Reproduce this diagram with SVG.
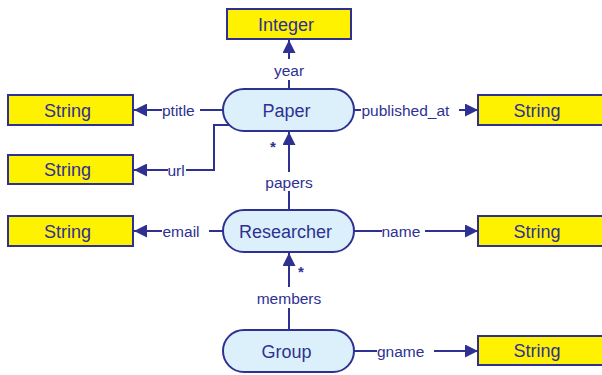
<svg xmlns="http://www.w3.org/2000/svg" width="602" height="375" viewBox="0 0 602 375">
<defs>
<style>
.box{fill:#FFF200;stroke:#2E3192;stroke-width:2}
.cls{fill:#DCF0FB;stroke:#2E3192;stroke-width:2}
.nt{font-family:"Liberation Sans",Arial,sans-serif;font-size:18px;fill:#2E3192;text-anchor:middle}
.lt{font-family:"Liberation Sans",Arial,sans-serif;font-size:15.5px;fill:#2E3192}
.ln{stroke:#2E3192;stroke-width:2;fill:none}
.st{font-family:"Liberation Sans",Arial,sans-serif;font-size:15px;font-weight:bold;fill:#2E3192}
</style>
<marker id="ah" markerUnits="userSpaceOnUse" markerWidth="14" markerHeight="13" refX="13" refY="6.5" orient="auto">
<path d="M0,0 L13,6.5 L0,13 z" fill="#2E3192"/>
</marker>
</defs>
<rect width="602" height="375" fill="#FFFFFF"/>
<g id="connectors">
<!-- year -->
<line class="ln" x1="289" y1="59" x2="289" y2="40" marker-end="url(#ah)"/>
<line class="ln" x1="289" y1="80" x2="289" y2="89"/>
<text class="lt" x="289" y="76" text-anchor="middle">year</text>
<!-- ptitle -->
<line class="ln" x1="162" y1="110" x2="134" y2="110" marker-end="url(#ah)"/>
<line class="ln" x1="200" y1="110" x2="223" y2="110"/>
<text class="lt" x="162" y="115.5">ptitle</text>
<!-- url -->
<path class="ln" d="M229,125 H214 V170 H186"/>
<line class="ln" x1="168" y1="170" x2="134" y2="170" marker-end="url(#ah)"/>
<text class="lt" x="167.5" y="175.5">url</text>
<!-- published_at -->
<line class="ln" x1="354" y1="110" x2="361" y2="110"/>
<line class="ln" x1="459" y1="110" x2="478" y2="110" marker-end="url(#ah)"/>
<text class="lt" x="361.5" y="115.5">published_at</text>
<!-- papers -->
<line class="ln" x1="289" y1="210" x2="289" y2="191"/>
<line class="ln" x1="289" y1="172" x2="289" y2="132" marker-end="url(#ah)"/>
<text class="lt" x="289" y="188" text-anchor="middle">papers</text>
<text class="st" x="273" y="152" text-anchor="middle">*</text>
<!-- email -->
<line class="ln" x1="162" y1="231" x2="134" y2="231" marker-end="url(#ah)"/>
<line class="ln" x1="209" y1="231" x2="223" y2="231"/>
<text class="lt" x="162.5" y="236.5">email</text>
<!-- name -->
<line class="ln" x1="354" y1="231" x2="382" y2="231"/>
<line class="ln" x1="425" y1="231" x2="478" y2="231" marker-end="url(#ah)"/>
<text class="lt" x="381.5" y="236.5">name</text>
<!-- members -->
<line class="ln" x1="289" y1="330" x2="289" y2="308"/>
<line class="ln" x1="289" y1="287" x2="289" y2="253" marker-end="url(#ah)"/>
<text class="lt" x="289" y="303.5" text-anchor="middle">members</text>
<text class="st" x="301" y="277" text-anchor="middle">*</text>
<!-- gname -->
<line class="ln" x1="354" y1="351" x2="377" y2="351"/>
<line class="ln" x1="434" y1="351" x2="478" y2="351" marker-end="url(#ah)"/>
<text class="lt" x="377" y="356.5">gname</text>
</g>
<g id="integer-year">
<rect class="box" x="227" y="9" width="124" height="30"/>
<text class="nt" x="286" y="30.5">Integer</text>
</g>
<g id="paper">
<rect class="cls" x="223" y="89" width="131" height="42" rx="21" ry="21"/>
<text class="nt" x="286.5" y="117">Paper</text>
</g>
<g id="string-ptitle">
<rect class="box" x="8" y="95" width="125" height="30"/>
<text class="nt" x="67.5" y="116.5">String</text>
</g>
<g id="string-url">
<rect class="box" x="8" y="155" width="125" height="29"/>
<text class="nt" x="67.5" y="176">String</text>
</g>
<g id="string-published_at">
<rect class="box" x="478" y="95" width="125" height="30"/>
<text class="nt" x="537" y="116.5">String</text>
</g>
<g id="researcher">
<rect class="cls" x="223" y="210" width="131" height="42" rx="21" ry="21"/>
<text class="nt" x="285.5" y="238">Researcher</text>
</g>
<g id="string-email">
<rect class="box" x="8" y="216" width="125" height="30"/>
<text class="nt" x="67.5" y="237.5">String</text>
</g>
<g id="string-name">
<rect class="box" x="478" y="216" width="125" height="30"/>
<text class="nt" x="537" y="237.5">String</text>
</g>
<g id="group">
<rect class="cls" x="223" y="330" width="131" height="42" rx="21" ry="21"/>
<text class="nt" x="286.5" y="358">Group</text>
</g>
<g id="string-gname">
<rect class="box" x="478" y="336" width="125" height="29"/>
<text class="nt" x="537" y="357">String</text>
</g>
</svg>
